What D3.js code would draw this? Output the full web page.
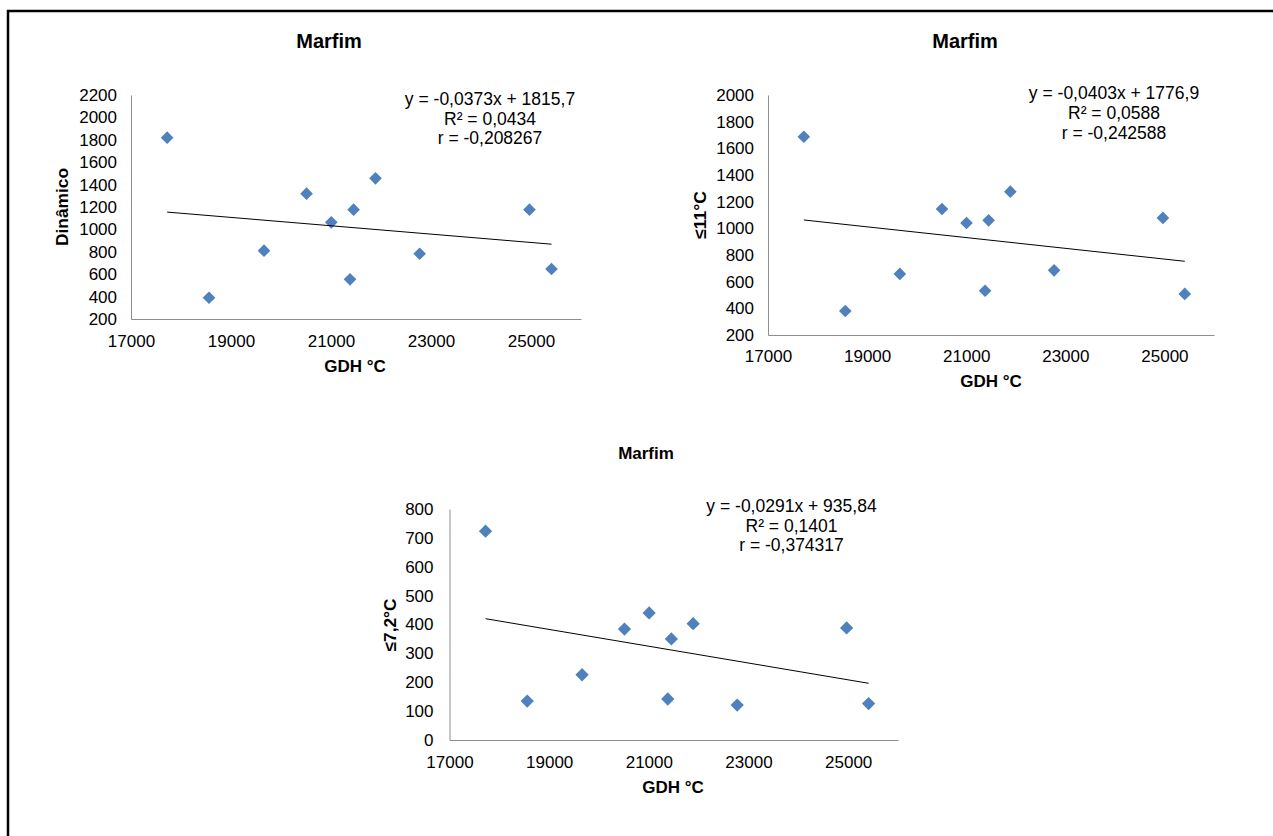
<!DOCTYPE html>
<html>
<head>
<meta charset="utf-8">
<script src="https://cdn.jsdelivr.net/npm/d3@7"></script>
<style>
  body { margin: 0; background: #fff; }
  text { font-family: "Liberation Sans", Arial, sans-serif; fill: #000; }
</style>
</head>
<body>
<div id="vis"></div>
<script>
const WIDTH = 1273;
const HEIGHT = 836;

// GDH values (x), shared by the three charts
const gdh = [17723, 18560, 19660, 20511, 21006, 21452, 21380, 21890, 22773, 24969, 25410];

// chill units for each model
const dinamico = [1819, 390, 810, 1319, 1063, 1176, 554, 1456, 783, 1176, 646];
const ate11 = [1687, 380, 658, 1145, 1040, 1060, 532, 1275, 685, 1078, 508];
const ate72 = [723, 135, 226, 384, 440, 350, 142, 403, 121, 388, 126];

// tick labels
const xTicks = [17000, 19000, 21000, 23000, 25000];
const yTicks1 = [200, 400, 600, 800, 1000, 1200, 1400, 1600, 1800, 2000, 2200];
const yTicks2 = [200, 400, 600, 800, 1000, 1200, 1400, 1600, 1800, 2000];
const yTicks3 = [0, 100, 200, 300, 400, 500, 600, 700, 800];

// trend lines (slope, intercept) and the labels next to them
const trend1 = [-0.0373, 1815.7];
const trend2 = [-0.0403, 1776.9];
const trend3 = [-0.0291, 935.84];
const eq1 = ["y = -0,0373x + 1815,7", "R² = 0,0434", "r = -0,208267"];
const eq2 = ["y = -0,0403x + 1776,9", "R² = 0,0588", "r = -0,242588"];
const eq3 = ["y = -0,0291x + 935,84", "R² = 0,1401", "r = -0,374317"];

const svg = d3.select("#vis").append("svg")
  .attr("width", WIDTH)
  .attr("height", HEIGHT);

// outer frame (only left and top edges are visible in the picture)
svg.append("rect")
  .attr("x", 8).attr("y", 11)
  .attr("width", 1400).attr("height", 1000)
  .attr("fill", "none")
  .attr("stroke", "#000")
  .attr("stroke-width", 2.5);

function addText(g, x, y, str, opts) {
  const t = g.append("text")
    .attr("transform", `translate(${x},${y})${opts.rotate ? " rotate(-90)" : ""}`)
    .attr("text-anchor", "middle")
    .attr("dy", "0.35em")
    .style("font-size", opts.size + "px")
    .style("font-weight", opts.bold ? "bold" : "normal")
    .text(str);
  if (opts.len) t.attr("textLength", opts.len).attr("lengthAdjust", "spacingAndGlyphs");
  return t;
}

function drawChart(c) {
  const g = svg.append("g");

  const x = d3.scaleLinear().domain([17000, 26000]).range([c.left, c.right]);
  const y = d3.scaleLinear().domain(c.yDomain).range([c.bottom, c.top]);

  // axes
  const xAxis = g.append("g")
    .attr("transform", `translate(0,${c.bottom})`)
    .call(d3.axisBottom(x).tickValues(xTicks).tickSize(0).tickPadding(0).tickFormat(d3.format("d")));
  const yAxis = g.append("g")
    .attr("transform", `translate(${c.left},0)`)
    .call(d3.axisLeft(y).tickValues(c.yTicks).tickSize(0).tickPadding(c.yPad).tickFormat(d3.format("d")));

  [xAxis, yAxis].forEach(a => {
    a.select(".domain").attr("stroke", "#8e8e8e").attr("stroke-width", 1);
    a.selectAll("text")
      .style("font-size", c.tickSize + "px")
      .style("font-family", "'Liberation Sans', Arial, sans-serif")
      .attr("fill", "#000");
  });
  xAxis.selectAll("text").attr("y", c.xPad).attr("dy", "0.35em");

  // markers
  g.selectAll(".pt")
    .data(gdh.map((d, i) => [d, c.values[i]]))
    .join("path")
    .attr("class", "pt")
    .attr("d", d3.symbol(d3.symbolSquare, c.markSize)())
    .attr("transform", d => `translate(${x(d[0])},${y(d[1])}) rotate(45)`)
    .attr("fill", "#4F81BD");

  // trend line from the equation
  const x0 = d3.min(gdh), x1 = d3.max(gdh);
  g.append("line")
    .attr("x1", x(x0)).attr("y1", y(c.trend[0] * x0 + c.trend[1]))
    .attr("x2", x(x1)).attr("y2", y(c.trend[0] * x1 + c.trend[1]))
    .attr("stroke", "#000")
    .attr("stroke-width", 1);

  // equation labels
  c.eq.forEach((s, i) => {
    addText(g, c.eqX, c.eqY + i * c.eqGap, s, { size: c.eqSize });
  });

  // titles
  addText(g, c.titleX, c.titleY, "Marfim", { size: c.titleSize, bold: true });
  addText(g, c.xTitleX, c.xTitleY, "GDH °C", { size: c.axisTitleSize, bold: true });
  addText(g, c.yTitleX, c.yTitleY, c.yTitle, { size: c.axisTitleSize, bold: true, rotate: true, len: c.yTitleLen });
}

drawChart({
  left: 131, right: 581, top: 95, bottom: 319,
  yDomain: [200, 2200], yTicks: yTicks1, values: dinamico,
  trend: trend1, eq: eq1, markSize: 80,
  eqX: 490, eqY: 99, eqGap: 19.5, eqSize: 17.5,
  tickSize: 17, xPad: 22, yPad: 14,
  titleX: 329, titleY: 41, titleSize: 20,
  xTitleX: 355, xTitleY: 366, axisTitleSize: 17,
  yTitleX: 62, yTitleY: 207, yTitle: "Dinâmico", yTitleLen: 78
});

drawChart({
  left: 768, right: 1214, top: 95, bottom: 335,
  yDomain: [200, 2000], yTicks: yTicks2, values: ate11,
  trend: trend2, eq: eq2, markSize: 80,
  eqX: 1114, eqY: 93, eqGap: 20, eqSize: 17.5,
  tickSize: 17, xPad: 21, yPad: 14,
  titleX: 965, titleY: 41, titleSize: 20,
  xTitleX: 991, xTitleY: 381, axisTitleSize: 17,
  yTitleX: 700, yTitleY: 215, yTitle: "≤11°C", yTitleLen: 48
});

drawChart({
  left: 449.5, right: 898, top: 509, bottom: 740,
  yDomain: [0, 800], yTicks: yTicks3, values: ate72,
  trend: trend3, eq: eq3, markSize: 88,
  eqX: 791.5, eqY: 506, eqGap: 19.5, eqSize: 17.5,
  tickSize: 17, xPad: 22, yPad: 16,
  titleX: 646, titleY: 453, titleSize: 17,
  xTitleX: 673, xTitleY: 787, axisTitleSize: 17,
  yTitleX: 390, yTitleY: 625, yTitle: "≤7,2°C", yTitleLen: 53
});
</script>
</body>
</html>
